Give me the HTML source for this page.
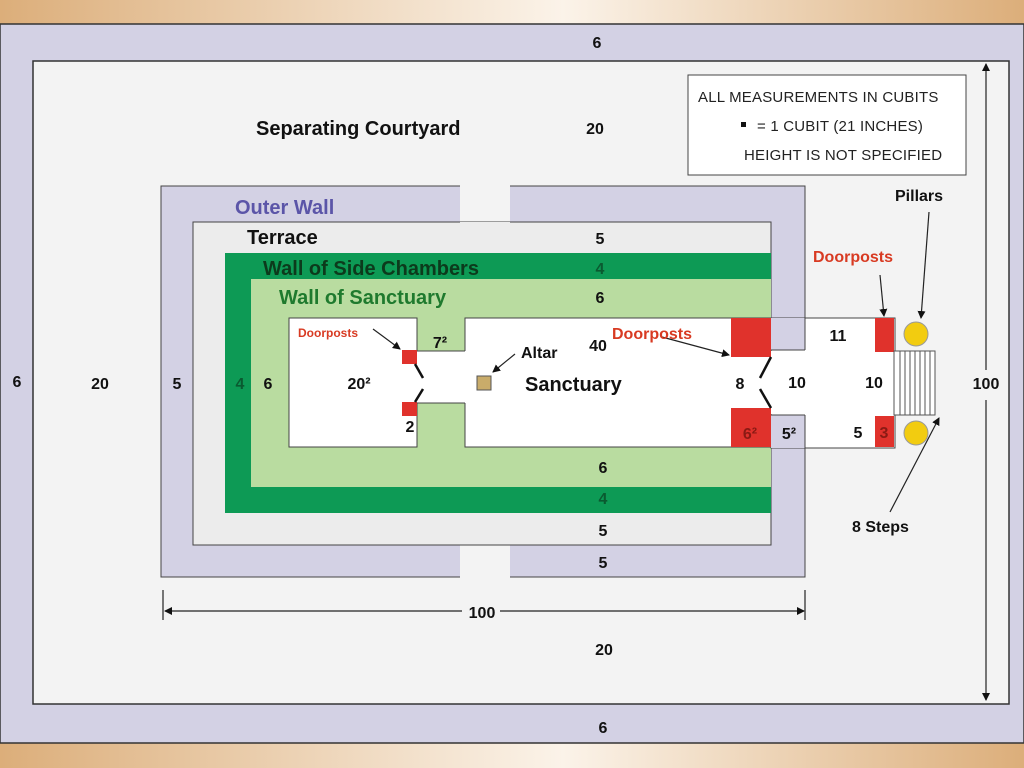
<!DOCTYPE html>
<html><head><style>html,body{margin:0;padding:0;width:1024px;height:768px;overflow:hidden}
text{font-family:"Liberation Sans",sans-serif;font-weight:bold}</style></head><body>
<svg width="1024" height="768" viewBox="0 0 1024 768" xmlns="http://www.w3.org/2000/svg">
<defs>
<linearGradient id="bg" x1="0" x2="1"><stop offset="0" stop-color="#dcae7a"/><stop offset="0.55" stop-color="#fbf3e9"/><stop offset="1" stop-color="#dcae7a"/></linearGradient>
<marker id="ar" markerWidth="8" markerHeight="8" refX="7" refY="4" orient="auto-start-reverse" markerUnits="userSpaceOnUse"><path d="M0,0 L8,4 L0,8z" fill="#111"/></marker>
</defs>
<rect width="1024" height="768" fill="url(#bg)"/>
<rect x="0" y="24" width="1024" height="719" fill="#d3d1e4" stroke="#333" stroke-width="1.5"/>
<rect x="33" y="61" width="976" height="643" fill="#f3f3f3" stroke="#333" stroke-width="1.5"/>
<rect x="161" y="186" width="644" height="391" fill="#d3d1e4" stroke="#444"/>
<rect x="460" y="185" width="50" height="38" fill="#f3f3f3"/>
<rect x="460" y="545" width="50" height="33" fill="#f3f3f3"/>
<rect x="193" y="222" width="578" height="323" fill="#ececec" stroke="#444"/>
<rect x="460" y="222" width="50" height="1.5" fill="#ececec"/>
<rect x="225" y="253" width="546" height="260" fill="#0d9a55"/>
<rect x="251" y="279" width="520" height="208" fill="#b9dca0"/>
<rect x="289" y="318" width="128" height="129" fill="#fff" stroke="#444"/>
<rect x="465" y="318" width="306" height="129" fill="#fff" stroke="#444"/>
<rect x="416" y="351" width="50" height="52" fill="#fff"/>
<line x1="417" y1="351" x2="465" y2="351" stroke="#444"/>
<line x1="417" y1="403" x2="465" y2="403" stroke="#444"/>
<rect x="771" y="318" width="124" height="130" fill="#fff" stroke="#444"/>
<rect x="771" y="318" width="34" height="32" fill="#d3d1e4"/>
<rect x="771" y="415" width="34" height="33" fill="#d3d1e4"/>
<line x1="771" y1="350" x2="805" y2="350" stroke="#444"/>
<line x1="771" y1="415" x2="805" y2="415" stroke="#444"/>
<line x1="805" y1="318" x2="805" y2="350" stroke="#444"/>
<line x1="805" y1="415" x2="805" y2="448" stroke="#444"/>
<rect x="770" y="351" width="37" height="63" fill="#fff"/>
<rect x="402" y="350" width="15" height="14" fill="#e0322c"/>
<rect x="402" y="402" width="15" height="14" fill="#e0322c"/>
<rect x="731" y="318" width="40" height="39" fill="#e0322c"/>
<rect x="731" y="408" width="40" height="39" fill="#e0322c"/>
<rect x="875" y="318" width="19" height="34" fill="#e0322c"/>
<rect x="875" y="416" width="19" height="31" fill="#e0322c"/>
<g stroke="#111" stroke-width="2.5" fill="none">
<path d="M415,364 L423,378"/><path d="M415,402 L423,389"/>
<path d="M771,357 L760,378"/><path d="M771,408 L760,389"/>
</g>
<rect x="894" y="351" width="41" height="64" fill="#fff" stroke="#555"/>
<g stroke="#555"><line x1="900" y1="351" x2="900" y2="415"/><line x1="905" y1="351" x2="905" y2="415"/><line x1="910" y1="351" x2="910" y2="415"/><line x1="915" y1="351" x2="915" y2="415"/><line x1="920" y1="351" x2="920" y2="415"/><line x1="925" y1="351" x2="925" y2="415"/><line x1="930" y1="351" x2="930" y2="415"/></g>
<circle cx="916" cy="334" r="12" fill="#f2cc10" stroke="#999"/>
<circle cx="916" cy="433" r="12" fill="#f2cc10" stroke="#999"/>
<rect x="477" y="376" width="14" height="14" fill="#c9ac6a" stroke="#555"/>
<rect x="688" y="75" width="278" height="100" fill="#fff" stroke="#444"/>
<g font-size="15" fill="#222" letter-spacing="0.2">
<text x="698" y="102" style="font-weight:normal">ALL MEASUREMENTS IN CUBITS</text>
<text x="757" y="131" style="font-weight:normal">= 1 CUBIT (21 INCHES)</text>
<text x="744" y="160" style="font-weight:normal">HEIGHT IS NOT SPECIFIED</text>
</g>
<rect x="741" y="122" width="5" height="5" fill="#111"/>
<g stroke="#222" stroke-width="1.2" fill="none">
<line x1="165" y1="611" x2="462" y2="611" marker-start="url(#ar)"/>
<line x1="500" y1="611" x2="804" y2="611" marker-end="url(#ar)"/>
<line x1="163" y1="590" x2="163" y2="620"/><line x1="805" y1="590" x2="805" y2="620"/>
<line x1="986" y1="370" x2="986" y2="64" marker-end="url(#ar)"/>
<line x1="986" y1="400" x2="986" y2="700" marker-end="url(#ar)"/>
<line x1="929" y1="212" x2="921" y2="318" marker-end="url(#ar)"/>
<line x1="880" y1="275" x2="884" y2="316" marker-end="url(#ar)"/>
<line x1="890" y1="512" x2="939" y2="418" marker-end="url(#ar)"/>
<line x1="662" y1="337" x2="729" y2="355" marker-end="url(#ar)"/>
<line x1="373" y1="329" x2="400" y2="349" marker-end="url(#ar)"/>
<line x1="515" y1="354" x2="493" y2="372" marker-end="url(#ar)"/>
</g>
<g font-size="16" fill="#111" text-anchor="middle">
<text x="597" y="48">6</text><text x="603" y="733">6</text>
<text x="17" y="387">6</text><text x="100" y="389">20</text>
<text x="595" y="134">20</text><text x="604" y="655">20</text>
<text x="986" y="389">100</text>
<text x="482" y="618">100</text>
<text x="177" y="389">5</text><text x="240" y="389" fill="#0a5a30">4</text><text x="268" y="389">6</text>
<text x="600" y="244">5</text><text x="600" y="274" fill="#0a5a30">4</text><text x="600" y="303">6</text>
<text x="603" y="473">6</text><text x="603" y="504" fill="#0a5a30">4</text><text x="603" y="536">5</text><text x="603" y="568">5</text>
<text x="598" y="351">40</text><text x="838" y="341">11</text>
<text x="797" y="388">10</text><text x="874" y="388">10</text>
<text x="740" y="389">8</text><text x="858" y="438">5</text>
<text x="884" y="438" fill="#8a1a14">3</text>
<text x="410" y="432">2</text>
<text x="750" y="439" fill="#8a1a14">6²</text><text x="789" y="439">5²</text>
<text x="440" y="348">7²</text><text x="359" y="389">20²</text>
</g>
<g font-size="20" fill="#111">
<text x="256" y="135">Separating Courtyard</text>
<text x="235" y="214" fill="#5b55a8">Outer Wall</text>
<text x="247" y="244">Terrace</text>
<text x="263" y="275" fill="#0c3a1c">Wall of Side Chambers</text>
<text x="279" y="304" fill="#1f7a2e">Wall of Sanctuary</text>
<text x="525" y="391">Sanctuary</text>
</g>
<g font-size="16" fill="#111">
<text x="521" y="358">Altar</text>
<text x="895" y="201">Pillars</text>
<text x="852" y="532">8 Steps</text>
<text x="813" y="262" fill="#d83a22">Doorposts</text>
<text x="612" y="339" fill="#d83a22">Doorposts</text>
<text x="298" y="337" font-size="12" fill="#d83a22">Doorposts</text>
</g>
</svg>
</body></html>
